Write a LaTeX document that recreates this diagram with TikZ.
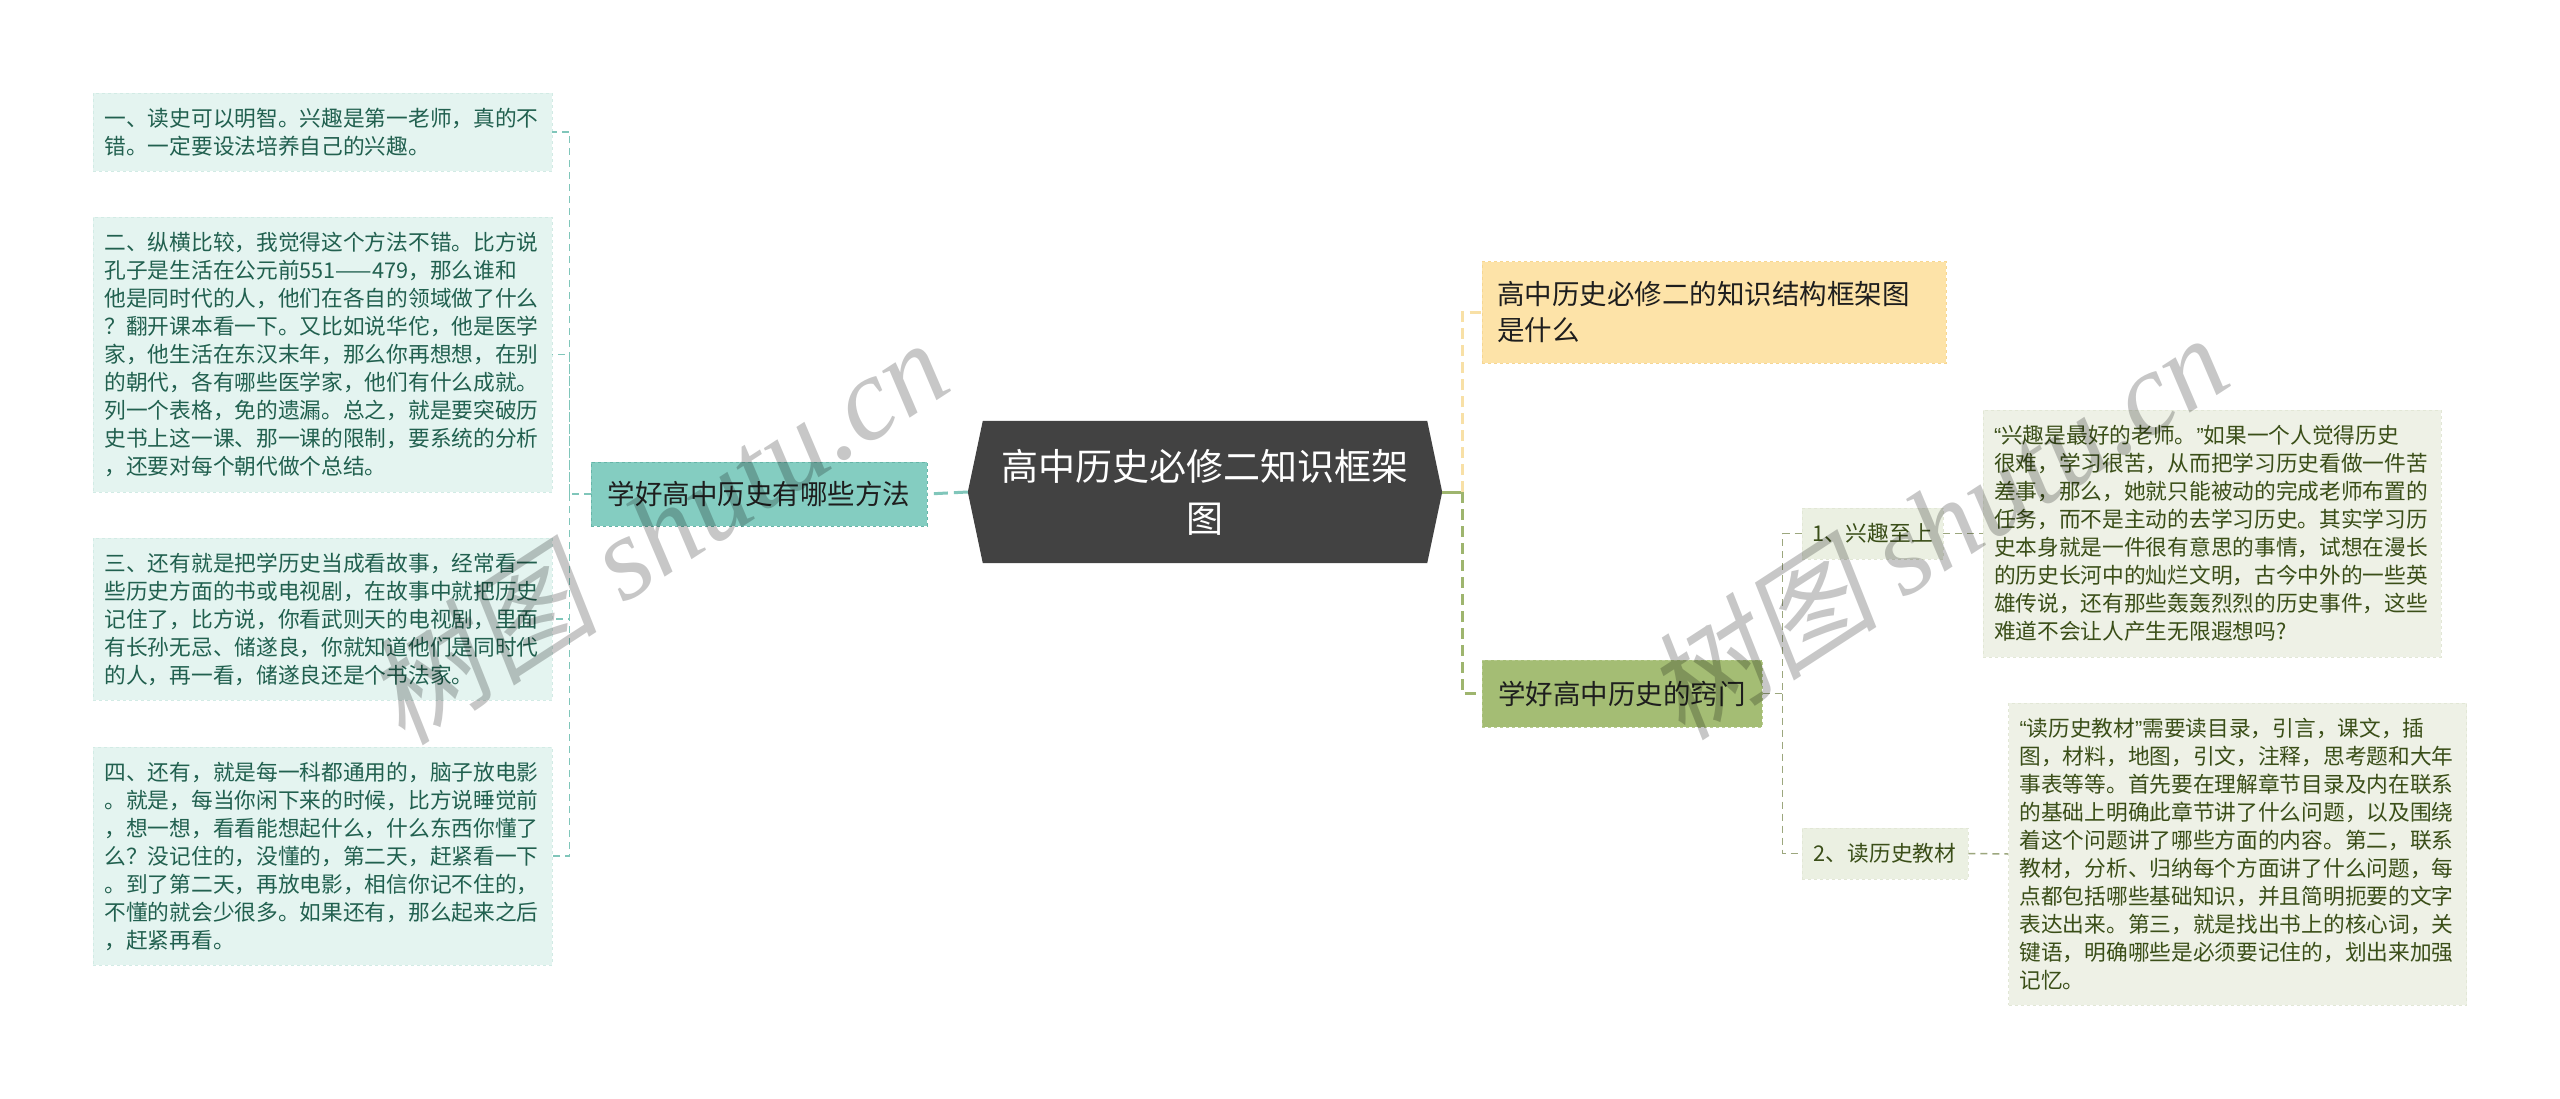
\documentclass[tikz,border=0pt]{standalone}
\usepackage{fontspec}
\setmainfont{Noto Sans CJK SC}
\newfontfamily\wmlatin{Liberation Serif}
\newfontfamily\wmcjk{Noto Sans CJK SC}[FakeSlant=0.2]
\newfontfamily\qf{Liberation Sans}
\newcommand\myoq{{\qf “}}
\newcommand\mycq{{\qf ”}}
\usetikzlibrary{backgrounds,calc}
\definecolor{leafLfill}{HTML}{E4F4F0}
\definecolor{leafLborder}{HTML}{D2EBE5}
\definecolor{leafLtext}{HTML}{21604F}
\definecolor{tealfill}{HTML}{84CDC1}
\definecolor{tealborder}{HTML}{66B5A8}
\definecolor{tealline}{HTML}{80C6BA}
\definecolor{rootfill}{HTML}{424242}
\definecolor{yfill}{HTML}{FDE3A8}
\definecolor{yborder}{HTML}{F6D692}
\definecolor{yline}{HTML}{F8E0A6}
\definecolor{gfill}{HTML}{A4BD74}
\definecolor{gborder}{HTML}{B9CC92}
\definecolor{gline}{HTML}{9EB56E}
\definecolor{sline}{HTML}{9CA77E}
\definecolor{subfill}{HTML}{EBF0E2}
\definecolor{rfill}{HTML}{EEF1E6}
\definecolor{rborder}{HTML}{E2E7D6}
\definecolor{rtext}{HTML}{3A4E18}
\definecolor{darktext}{HTML}{1E1E1E}
\tikzset{
  leafL/.style={fill=leafLfill, draw=leafLborder, dashed, line width=0.8pt, text=leafLtext,
    font=\fontsize{21.7pt}{28pt}\selectfont, align=left, text width=436pt,
    inner xsep=11.5pt, inner ysep=0pt},
  leafR/.style={fill=rfill, draw=rborder, dashed, line width=0.8pt, text=rtext,
    font=\fontsize{21.7pt}{28pt}\selectfont, align=left, text width=436pt,
    inner xsep=11pt, inner ysep=0pt},
  tealnode/.style={fill=tealfill, draw=tealborder, dashed, line width=1pt, text=darktext,
    font=\fontsize{27.5pt}{34pt}\selectfont, minimum width=336pt, minimum height=64pt, inner sep=0pt},
  rootnode/.style={text=white, font=\fontsize{37pt}{52pt}\selectfont, align=center,
    minimum width=474pt, minimum height=142pt, inner sep=0pt},
  ynode/.style={fill=yfill, draw=yborder, dashed, line width=1pt, text=darktext,
    font=\fontsize{27.5pt}{36pt}\selectfont, align=left, text width=434pt,
    inner xsep=15pt, inner ysep=0pt, minimum height=101pt},
  gnode/.style={fill=gfill, draw=gborder, dashed, line width=1pt, text=darktext,
    font=\fontsize{27.5pt}{34pt}\selectfont, minimum width=280pt, minimum height=67pt, inner sep=0pt},
  subnode/.style={fill=subfill, draw=rborder, dashed, line width=0.8pt, text=rtext,
    font=\fontsize{21.7pt}{28pt}\selectfont, minimum height=51pt, inner sep=0pt},
  connT/.style={draw=tealline, line width=1.5pt, dash pattern=on 7pt off 5pt},
  connRT/.style={draw=tealline, line width=3pt, dash pattern=on 14pt off 6pt},
  connY/.style={draw=yline, line width=3pt, dash pattern=on 11pt off 6pt},
  connG/.style={draw=gline, line width=3pt, dash pattern=on 11pt off 6pt},
  connGsolid/.style={draw=gline, line width=3pt},
  connS/.style={draw=sline, line width=1.5pt, dash pattern=on 7pt off 5pt},
  wm/.style={text=black, opacity=0.22, font=\fontsize{118pt}{118pt}\selectfont, inner sep=0pt}
}
\begin{document}
\begin{tikzpicture}[x=1pt,y=-1pt]
\begin{scope}[on background layer]
\fill[white] (0,0) rectangle (2560,1099);
\end{scope}
\useasboundingbox (0,0) rectangle (2560,1099);

% left leaves
\node[leafL, minimum height=78pt] (l1) at (322.5,132) {一、读史可以明智。兴趣是第一老师，真的不\\错。一定要设法培养自己的兴趣。};
\node[leafL, minimum height=275pt] (l2) at (322.5,354.5) {二、纵横比较，我觉得这个方法不错。比方说\\孔子是生活在公元前551——479，那么谁和\\他是同时代的人，他们在各自的领域做了什么\\？翻开课本看一下。又比如说华佗，他是医学\\家，他生活在东汉末年，那么你再想想，在别\\的朝代，各有哪些医学家，他们有什么成就。\\列一个表格，免的遗漏。总之，就是要突破历\\史书上这一课、那一课的限制，要系统的分析\\，还要对每个朝代做个总结。};
\node[leafL, minimum height=162pt] (l3) at (322.5,619) {三、还有就是把学历史当成看故事，经常看一\\些历史方面的书或电视剧，在故事中就把历史\\记住了，比方说，你看武则天的电视剧，里面\\有长孙无忌、储遂良，你就知道他们是同时代\\的人，再一看，储遂良还是个书法家。};
\node[leafL, minimum height=218pt] (l4) at (322.5,856) {四、还有，就是每一科都通用的，脑子放电影\\。就是，每当你闲下来的时候，比方说睡觉前\\，想一想，看看能想起什么，什么东西你懂了\\么？没记住的，没懂的，第二天，赶紧看一下\\。到了第二天，再放电影，相信你记不住的，\\不懂的就会少很多。如果还有，那么起来之后\\，赶紧再看。};

% main nodes
\node[tealnode] (teal) at (759,494) {学好高中历史有哪些方法};
\node[rootnode] (root) at (1205,492) {高中历史必修二知识框架\\图};
\begin{scope}[on background layer]
\fill[rootfill] (root.west) -- ($(root.north west)+(15,0)$) -- ($(root.north east)+(-15,0)$)
  -- (root.east) -- ($(root.south east)+(-15,0)$) -- ($(root.south west)+(15,0)$) -- cycle;
\end{scope}
\node[ynode] (yellow) at (1714,312.5) {高中历史必修二的知识结构框架图\\是什么};
\node[gnode] (green) at (1622,693.5) {学好高中历史的窍门};
\node[subnode, minimum width=141pt] (s1) at (1872.5,533.5) {1、兴趣至上};
\node[subnode, minimum width=166pt] (s2) at (1885,853.5) {2、读历史教材};

% right leaves
\node[leafR, minimum height=247pt] (r1) at (2212,533.5) {\myoq 兴趣是最好的老师。\mycq 如果一个人觉得历史\\很难，学习很苦，从而把学习历史看做一件苦\\差事，那么，她就只能被动的完成老师布置的\\任务，而不是主动的去学习历史。其实学习历\\史本身就是一件很有意思的事情，试想在漫长\\的历史长河中的灿烂文明，古今中外的一些英\\雄传说，还有那些轰轰烈烈的历史事件，这些\\难道不会让人产生无限遐想吗?};
\node[leafR, minimum height=302pt] (r2) at (2237.5,854) {\myoq 读历史教材\mycq 需要读目录，引言，课文，插\\图，材料，地图，引文，注释，思考题和大年\\事表等等。首先要在理解章节目录及内在联系\\的基础上明确此章节讲了什么问题，以及围绕\\着这个问题讲了哪些方面的内容。第二，联系\\教材，分析、归纳每个方面讲了什么问题，每\\点都包括哪些基础知识，并且简明扼要的文字\\表达出来。第三，就是找出书上的核心词，关\\键语，明确哪些是必须要记住的，划出来加强\\记忆。};

% connectors
\draw[connRT] (root.west) -- (teal.east);
\draw[connT] (teal.west) -- ++(-21,0) coordinate (tj) |- (l1.east);
\draw[connT] (tj) |- (l2.east);
\draw[connT] (tj) |- (l3.east);
\draw[connT] (tj) |- (l4.east);
\draw[connGsolid] (root.east) -- ++(20,0) coordinate (rj);
\draw[connY] (rj) |- (yellow.west);
\draw[connG] (rj) |- (green.west);
\draw[connS] (green.east) -- ++(20,0) coordinate (gj) |- (s1.west);
\draw[connS] (gj) |- (s2.west);
\draw[connS] (s1.east) -- (r1.west);
\draw[connS] (s2.east) -- (r2.west);

% watermarks
\node[wm, rotate=33] (wm1) at (655,530) {{\wmcjk 树图} {\wmlatin\itshape shutu.cn}};
\node[wm, rotate=33] (wm2) at (1935,525) {{\wmcjk 树图} {\wmlatin\itshape shutu.cn}};
\end{tikzpicture}
\end{document}
